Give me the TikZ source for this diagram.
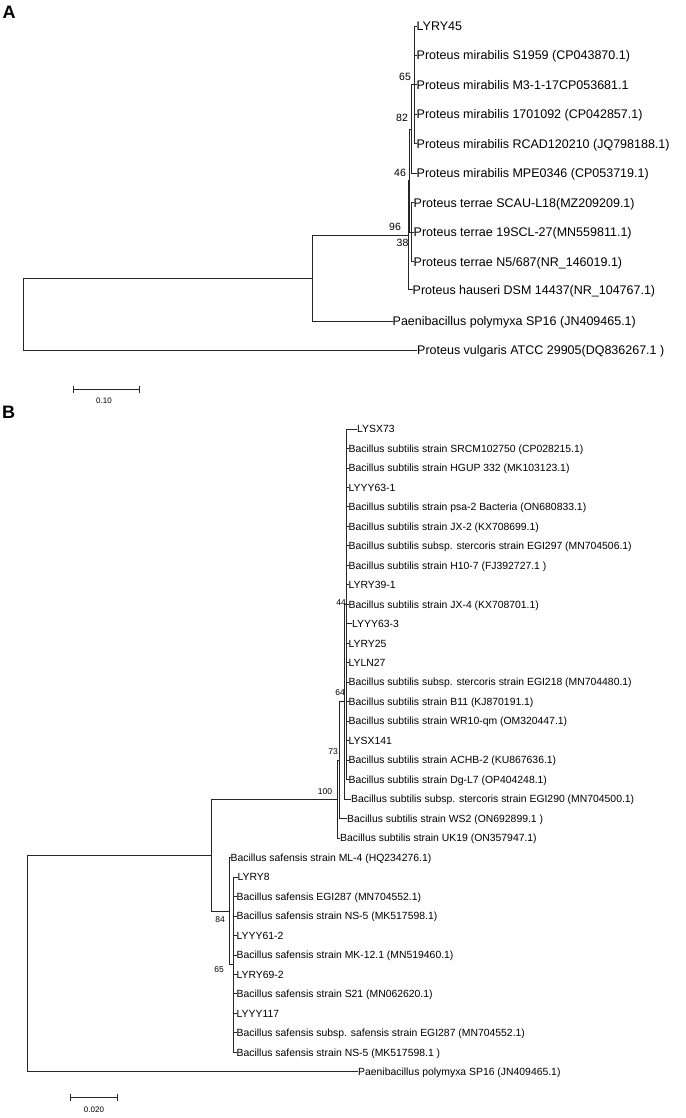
\documentclass[tikz,border=0pt]{standalone}
\usepackage{fontspec}
\setmainfont{Liberation Sans}
\usetikzlibrary{arrows.meta}
\begin{document}
\begin{tikzpicture}[x=1pt,y=-1pt,
  br/.style={line width=0.95pt, draw=black!85},
  lfA/.style={font=\fontsize{12.5}{14}\selectfont, inner sep=0pt, anchor=west, text height=9pt, text depth=0pt},
  lfB/.style={font=\fontsize{10.4}{12}\selectfont, inner sep=0pt, anchor=west, text height=7.5pt, text depth=0pt},
  bsA/.style={font=\fontsize{10.5}{12}\selectfont, inner sep=0pt},
  bsB/.style={font=\fontsize{8.5}{10}\selectfont, inner sep=0pt},
  panel/.style={font=\fontsize{18}{20}\selectfont\bfseries, inner sep=0pt},
  sbar/.style={line width=0.95pt, draw=black!85, {Bar[width=7pt]}-{Bar[width=7pt]}},
  sbtext/.style={font=\fontsize{8}{9}\selectfont, inner sep=0pt}]
\fill[white] (0,0) rectangle (685,1118);
\useasboundingbox (0,0) rectangle (685,1118);

% ---------------- Panel A ----------------
\node[panel] (labA) at (9,12) {A};
\coordinate (rA) at (23,314.2);
\coordinate (uA) at (312,278.4);
\coordinate (n96) at (408,235.8);
\coordinate (n46) at (409.5,180.6);
\coordinate (n38) at (411,232.2);
\coordinate (n82) at (411.5,129);
\coordinate (n65) at (414,84.9);

\node[lfA] (a1) at (416.5,26) {LYRY45};
\node[lfA] (a2) at (416.5,55.5) {Proteus mirabilis S1959 (CP043870.1)};
\node[lfA] (a3) at (416.5,84.9) {Proteus mirabilis M3-1-17CP053681.1};
\node[lfA] (a4) at (416.5,114.4) {Proteus mirabilis 1701092 (CP042857.1)};
\node[lfA] (a5) at (416.5,143.8) {Proteus mirabilis RCAD120210 (JQ798188.1)};
\node[lfA] (a6) at (416.5,173.3) {Proteus mirabilis MPE0346 (CP053719.1)};
\node[lfA] (a7) at (413.5,202.7) {Proteus terrae SCAU-L18(MZ209209.1)};
\node[lfA] (a8) at (413.5,232.2) {Proteus terrae 19SCL-27(MN559811.1)};
\node[lfA] (a9) at (413.5,261.6) {Proteus terrae N5/687(NR\_146019.1)};
\node[lfA] (a10) at (412.5,289.5) {Proteus hauseri DSM 14437(NR\_104767.1)};
\node[lfA] (a11) at (392.5,321) {Paenibacillus polymyxa SP16 (JN409465.1)};
\node[lfA] (a12) at (417,350) {Proteus vulgaris ATCC 29905(DQ836267.1 )};

\draw[br] (rA) |- (uA);
\draw[br] (rA) |- (a12.west);
\draw[br] (uA) |- (n96);
\draw[br] (uA) |- (a11.west);
\draw[br] (n96) |- (n46);
\draw[br] (n96) |- (a10.west);
\draw[br] (n46) |- (n82);
\draw[br] (n46) |- (n38);
\draw[br] (n38) |- (a7.west);
\draw[br] (n38) |- (a8.west);
\draw[br] (n38) |- (a9.west);
\draw[br] (n82) |- (n65);
\draw[br] (n82) |- (a6.west);
\draw[br] (n65) |- (a1.west);
\draw[br] (n65) |- (a2.west);
\draw[br] (n65) |- (a3.west);
\draw[br] (n65) |- (a4.west);
\draw[br] (n65) |- (a5.west);

\node[bsA] (b65) at (405,77) {65};
\node[bsA] (b82) at (402,118) {82};
\node[bsA] (b46) at (400,173) {46};
\node[bsA] (b96) at (395,227) {96};
\node[bsA] (b38) at (402.5,243) {38};

\coordinate (sa1) at (73,389);
\coordinate (sa2) at (140,389);
\draw[sbar] (sa1) -- (sa2);
\node[sbtext] (sat) at (104,401) {0.10};

% ---------------- Panel B ----------------
\node[panel] (labB) at (8.5,412) {B};
\coordinate (rB) at (27.7,963.5);
\coordinate (iB) at (211.7,855.1);
\coordinate (m100) at (337,799.1);
\coordinate (m73) at (339.5,760.2);
\coordinate (m64) at (344,701.7);
\coordinate (m44) at (346.5,604.3);
\coordinate (m84) at (229.5,911.2);
\coordinate (m65) at (233.5,964.7);

\node[lfB] (c0) at (357,429) {LYSX73};
\node[lfB] (c1) at (348.5,448.5) {Bacillus subtilis strain SRCM102750 (CP028215.1)};
\node[lfB] (c2) at (348.5,468) {Bacillus subtilis strain HGUP 332 (MK103123.1)};
\node[lfB] (c3) at (348.5,487.4) {LYYY63-1};
\node[lfB] (c4) at (348.5,506.9) {Bacillus subtilis strain psa-2 Bacteria (ON680833.1)};
\node[lfB] (c5) at (348.5,526.4) {Bacillus subtilis strain JX-2 (KX708699.1)};
\node[lfB] (c6) at (348.5,545.9) {Bacillus subtilis subsp. stercoris strain EGI297 (MN704506.1)};
\node[lfB] (c7) at (348.5,565.4) {Bacillus subtilis strain H10-7 (FJ392727.1 )};
\node[lfB] (c8) at (348.5,584.8) {LYRY39-1};
\node[lfB] (c9) at (348.5,604.3) {Bacillus subtilis strain JX-4 (KX708701.1)};
\node[lfB] (c10) at (352,623.8) {LYYY63-3};
\node[lfB] (c11) at (348.5,643.3) {LYRY25};
\node[lfB] (c12) at (348.5,662.8) {LYLN27};
\node[lfB] (c13) at (348.5,682.2) {Bacillus subtilis subsp. stercoris strain EGI218 (MN704480.1)};
\node[lfB] (c14) at (348.5,701.7) {Bacillus subtilis strain B11 (KJ870191.1)};
\node[lfB] (c15) at (348.5,721.2) {Bacillus subtilis strain WR10-qm (OM320447.1)};
\node[lfB] (c16) at (348.5,740.7) {LYSX141};
\node[lfB] (c17) at (348.5,760.2) {Bacillus subtilis strain ACHB-2 (KU867636.1)};
\node[lfB] (c18) at (348.5,779.6) {Bacillus subtilis strain Dg-L7 (OP404248.1)};
\node[lfB] (c19) at (351,799.1) {Bacillus subtilis subsp. stercoris strain EGI290 (MN704500.1)};
\node[lfB] (c20) at (347,818.6) {Bacillus subtilis strain WS2 (ON692899.1 )};
\node[lfB] (c21) at (340,838.1) {Bacillus subtilis strain UK19 (ON357947.1)};
\node[lfB] (c22) at (230.5,857.6) {Bacillus safensis strain ML-4 (HQ234276.1)};
\node[lfB] (c23) at (237.5,877) {LYRY8};
\node[lfB] (c24) at (236.5,896.5) {Bacillus safensis EGI287 (MN704552.1)};
\node[lfB] (c25) at (236.5,916) {Bacillus safensis strain NS-5 (MK517598.1)};
\node[lfB] (c26) at (236.5,935.5) {LYYY61-2};
\node[lfB] (c27) at (236.5,955) {Bacillus safensis strain MK-12.1 (MN519460.1)};
\node[lfB] (c28) at (236.5,974.4) {LYRY69-2};
\node[lfB] (c29) at (236.5,993.9) {Bacillus safensis strain S21 (MN062620.1)};
\node[lfB] (c30) at (236.5,1013.4) {LYYY117};
\node[lfB] (c31) at (236.5,1032.9) {Bacillus safensis subsp. safensis strain EGI287 (MN704552.1)};
\node[lfB] (c32) at (236.5,1052.4) {Bacillus safensis strain NS-5 (MK517598.1 )};
\node[lfB] (c33) at (358,1071.8) {Paenibacillus polymyxa SP16 (JN409465.1)};

\draw[br] (rB) |- (iB);
\draw[br] (rB) |- (c33.west);
\draw[br] (iB) |- (m100);
\draw[br] (iB) |- (m84);
\draw[br] (m100) |- (m73);
\draw[br] (m100) |- (c21.west);
\draw[br] (m73) |- (m64);
\draw[br] (m73) |- (c20.west);
\draw[br] (m64) |- (m44);
\draw[br] (m64) |- (c19.west);
\foreach \k in {0,...,18} { \draw[br] (m44) |- (c\k.west); }
\draw[br] (m84) |- (c22.west);
\draw[br] (m84) |- (m65);
\foreach \k in {23,...,32} { \draw[br] (m65) |- (c\k.west); }

\node[bsB] (d44) at (341,603) {44};
\node[bsB] (d64) at (340,693) {64};
\node[bsB] (d73) at (333,752) {73};
\node[bsB] (d100) at (325,792) {100};
\node[bsB] (d84) at (220,920) {84};
\node[bsB] (d65) at (219,970) {65};

\coordinate (sb1) at (70,1097);
\coordinate (sb2) at (118,1097);
\draw[sbar] (sb1) -- (sb2);
\node[sbtext] (sbt) at (94,1110) {0.020};
\end{tikzpicture}
\end{document}
